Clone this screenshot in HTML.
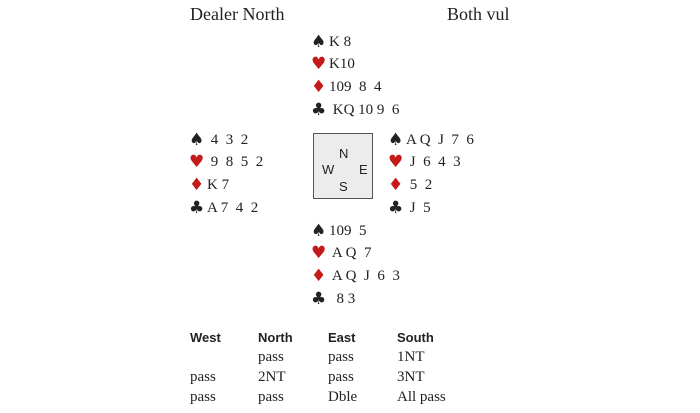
<!DOCTYPE html>
<html><head><style>
body{margin:0;width:700px;height:413px;background:#fff;position:relative;overflow:hidden;font-family:"Liberation Serif",serif;color:#222;}
.t{position:absolute;font-size:15px;line-height:18px;white-space:pre;}
.s{display:inline-block;width:18px;font-size:17px;font-family:"DejaVu Sans",sans-serif;line-height:18px;vertical-align:top;}
.r{color:#c41a1a;}
.h{position:absolute;font-family:"Liberation Sans",sans-serif;font-weight:bold;font-size:13px;line-height:16px;}
.b{position:absolute;font-size:15px;line-height:18px;}
#box{position:absolute;left:313px;top:133px;width:60px;height:66px;border:1px solid #555;background:#ececec;box-sizing:border-box;font-family:"Liberation Sans",sans-serif;font-size:13px;}
#box span{position:absolute;}
</style></head><body>
<div class="t" style="left:190px;top:5px;font-size:18px">Dealer North</div>
<div class="t" style="left:447px;top:5px;font-size:18px">Both vul</div>

<div class="t" style="left:311px;top:33px"><span class="s">♠</span>K 8</div>
<div class="t" style="left:311px;top:55px"><span class="s r">♥</span>K10</div>
<div class="t" style="left:311px;top:78px"><span class="s r">♦</span>109  8  4</div>
<div class="t" style="left:311px;top:101px"><span class="s">♣</span> KQ 10 9  6</div>

<div class="t" style="left:189px;top:131px"><span class="s">♠</span> 4  3  2</div>
<div class="t" style="left:189px;top:153px"><span class="s r">♥</span> 9  8  5  2</div>
<div class="t" style="left:189px;top:176px"><span class="s r">♦</span>K 7</div>
<div class="t" style="left:189px;top:199px"><span class="s">♣</span>A 7  4  2</div>

<div id="box"><span style="left:25px;top:12px">N</span><span style="left:8px;top:28px">W</span><span style="left:45px;top:28px">E</span><span style="left:25px;top:45px">S</span></div>

<div class="t" style="left:388px;top:131px"><span class="s">♠</span>A Q  J  7  6</div>
<div class="t" style="left:388px;top:153px"><span class="s r">♥</span> J  6  4  3</div>
<div class="t" style="left:388px;top:176px"><span class="s r">♦</span> 5  2</div>
<div class="t" style="left:388px;top:199px"><span class="s">♣</span> J  5</div>

<div class="t" style="left:311px;top:222px"><span class="s">♠</span>109  5</div>
<div class="t" style="left:311px;top:244px"><span class="s r">♥</span> A Q  7</div>
<div class="t" style="left:311px;top:267px"><span class="s r">♦</span> A Q  J  6  3</div>
<div class="t" style="left:311px;top:290px"><span class="s">♣</span>  8 3</div>

<div class="h" style="left:190px;top:330px">West</div>
<div class="h" style="left:258px;top:330px">North</div>
<div class="h" style="left:328px;top:330px">East</div>
<div class="h" style="left:397px;top:330px">South</div>
<div class="b" style="left:258px;top:348px">pass</div>
<div class="b" style="left:328px;top:348px">pass</div>
<div class="b" style="left:397px;top:348px">1NT</div>
<div class="b" style="left:190px;top:368px">pass</div>
<div class="b" style="left:258px;top:368px">2NT</div>
<div class="b" style="left:328px;top:368px">pass</div>
<div class="b" style="left:397px;top:368px">3NT</div>
<div class="b" style="left:190px;top:388px">pass</div>
<div class="b" style="left:258px;top:388px">pass</div>
<div class="b" style="left:328px;top:388px">Dble</div>
<div class="b" style="left:397px;top:388px">All pass</div>
</body></html>
